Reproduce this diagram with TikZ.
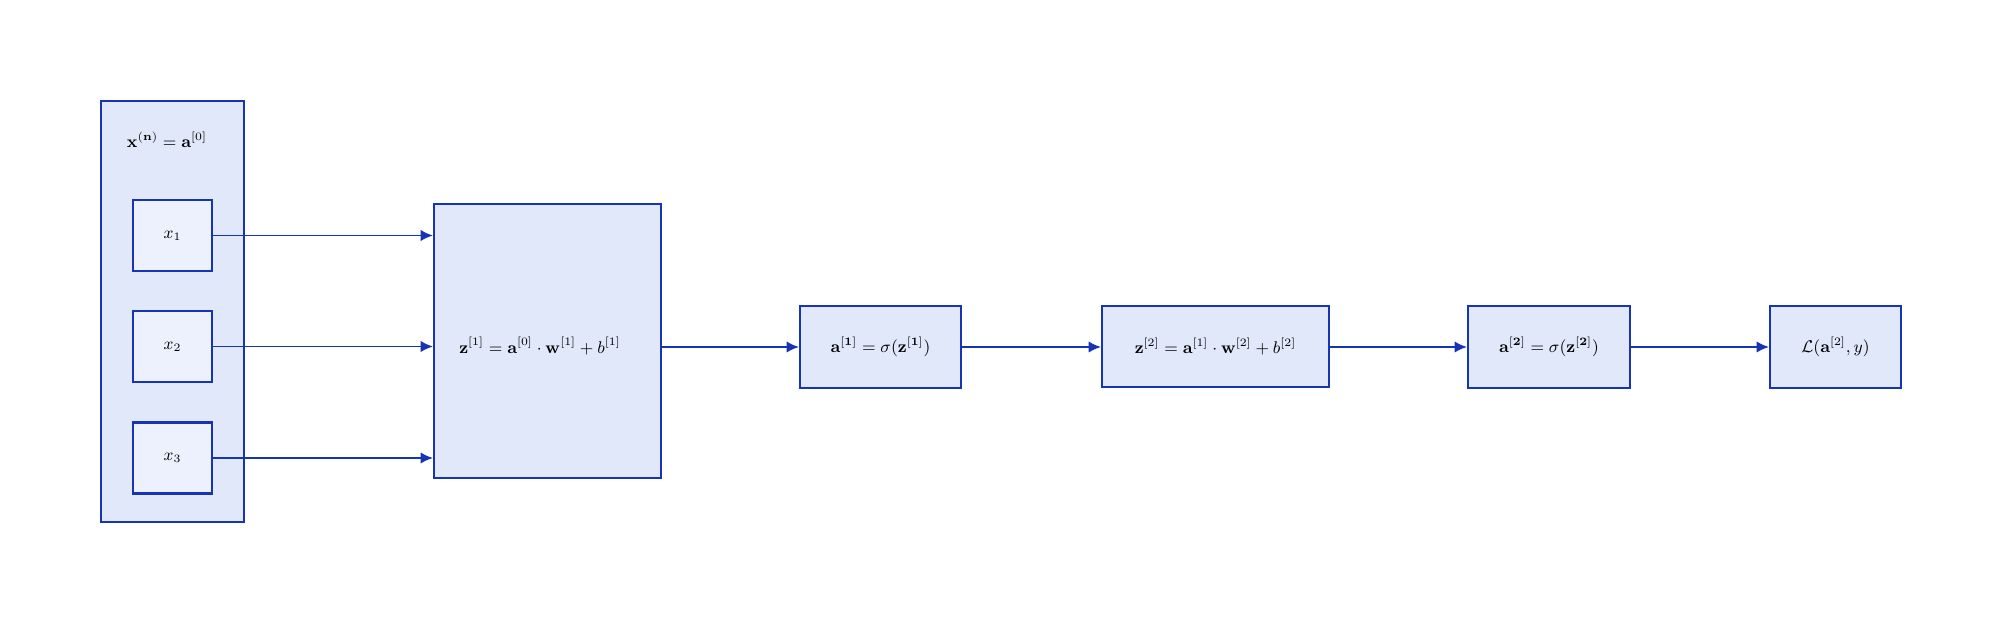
\documentclass[tikz,border=0pt]{standalone}
\usepackage{amsmath}
\usetikzlibrary{arrows.meta}
\definecolor{bdr}{RGB}{22,52,180}
\definecolor{fillA}{RGB}{225,232,250}
\definecolor{fillB}{RGB}{236,241,253}
\begin{document}
\begin{tikzpicture}[x=0.53pt,y=-0.53pt,
  box/.style={draw=bdr,line width=1.1pt,fill=fillA,inner sep=0pt,font=\small},
  inbox/.style={draw=bdr,line width=1.1pt,fill=fillB,inner sep=0pt,font=\small,minimum width=79*0.53pt,minimum height=71*0.53pt},
  conn/.style={draw=bdr,line width=0.9pt,-{Latex[length=6.5pt,width=6pt]}}]
\useasboundingbox (0,0) rectangle (2002,624);
\node[box,minimum width=143*0.53pt,minimum height=421*0.53pt] (outer) at (172.5,311.5) {};
\node[font=\small] (lbl) at (167,140) {$\mathbf{x}^{(\mathbf{n})} = \mathbf{a}^{[0]}$};
\node[inbox] (x1) at (172.5,235.5) {$x_1$};
\node[inbox] (x2) at (172.5,346.5) {$x_2$};
\node[inbox] (x3) at (172.5,458) {$x_3$};
\node[box,minimum width=227*0.53pt,minimum height=274*0.53pt] (z1) at (547.5,341) {};
\node[font=\small] (z1t) at (540,346) {$\mathbf{z}^{[1]} = \mathbf{a}^{[0]}\cdot\mathbf{w}^{[1]} + b^{[1]}$};
\node[box,minimum width=161*0.53pt,minimum height=82*0.53pt] (a1) at (880.5,347) {$\mathbf{a}^{[\mathbf{1}]} = \sigma(\mathbf{z}^{[\mathbf{1}]})$};
\node[box,minimum width=227*0.53pt,minimum height=81*0.53pt] (z2) at (1215.5,346.5) {$\mathbf{z}^{[2]} = \mathbf{a}^{[1]}\cdot\mathbf{w}^{[2]} + b^{[2]}$};
\node[box,minimum width=162*0.53pt,minimum height=82*0.53pt] (a2) at (1549,347) {$\mathbf{a}^{[\mathbf{2}]} = \sigma(\mathbf{z}^{[\mathbf{2}]})$};
\node[box,minimum width=131*0.53pt,minimum height=82*0.53pt] (L) at (1835.5,347) {$\mathcal{L}(\mathbf{a}^{[2]},y)$};
\draw[conn] (x1.east) -- (z1.west |- x1.east);
\draw[conn] (x2.east) -- (z1.west |- x2.east);
\draw[conn] (x3.east) -- (z1.west |- x3.east);
\draw[conn] (z1.east |- a1.west) -- (a1.west);
\draw[conn] (a1.east) -- (z2.west |- a1.east);
\draw[conn] (z2.east |- a2.west) -- (a2.west);
\draw[conn] (a2.east) -- (L.west);
\end{tikzpicture}
\end{document}
